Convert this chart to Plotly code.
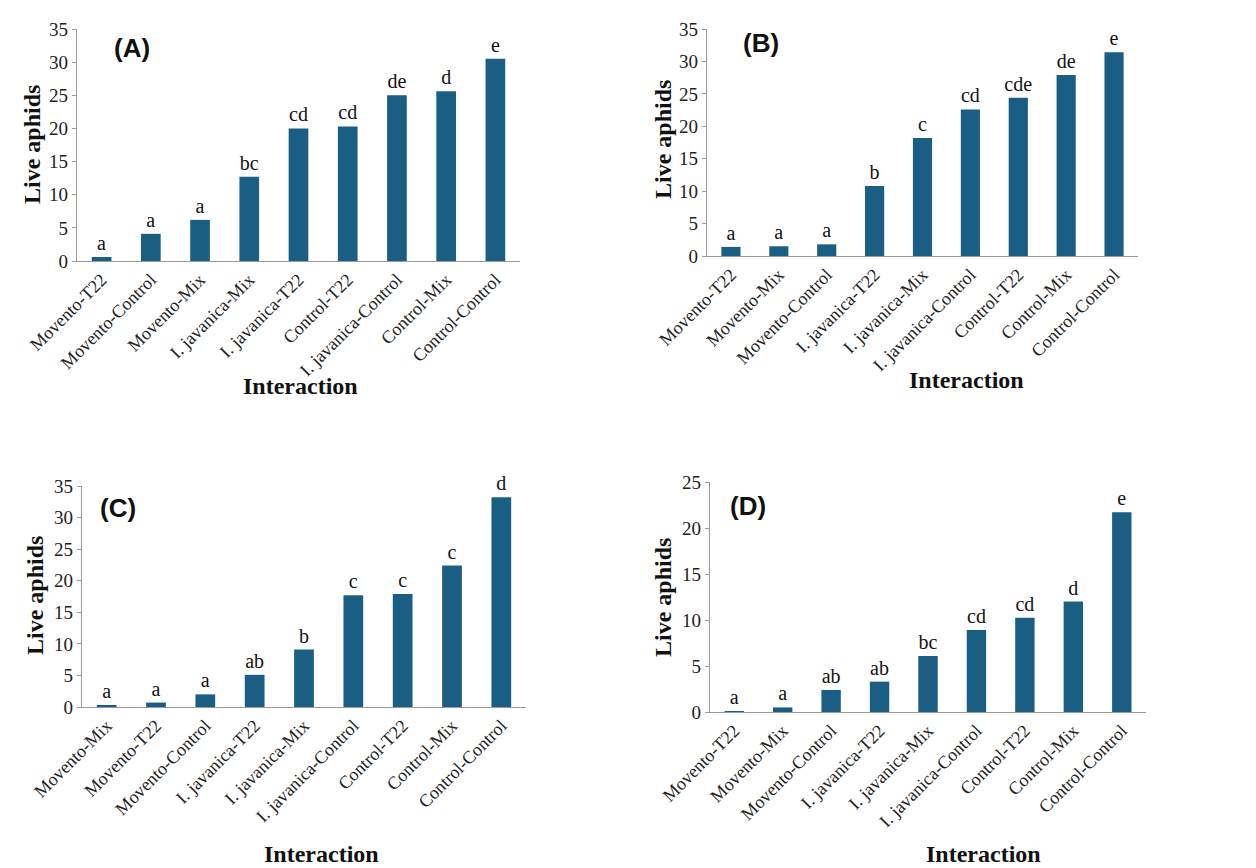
import plotly.graph_objects as go

# ---------------- data ----------------
cats_A = ["Movento-T22", "Movento-Control", "Movento-Mix", "I. javanica-Mix", "I. javanica-T22",
          "Control-T22", "I. javanica-Control", "Control-Mix", "Control-Control"]
vals_A = [0.6, 4.1, 6.2, 12.7, 20.0, 20.3, 25.0, 25.6, 30.5]
lets_A = ["a", "a", "a", "bc", "cd", "cd", "de", "d", "e"]

cats_B = ["Movento-T22", "Movento-Mix", "Movento-Control", "I. javanica-T22", "I. javanica-Mix",
          "I. javanica-Control", "Control-T22", "Control-Mix", "Control-Control"]
vals_B = [1.4, 1.5, 1.8, 10.8, 18.2, 22.6, 24.4, 27.9, 31.4]
lets_B = ["a", "a", "a", "b", "c", "cd", "cde", "de", "e"]

cats_C = ["Movento-Mix", "Movento-T22", "Movento-Control", "I. javanica-T22", "I. javanica-Mix",
          "I. javanica-Control", "Control-T22", "Control-Mix", "Control-Control"]
vals_C = [0.3, 0.7, 2.0, 5.1, 9.1, 17.7, 17.9, 22.4, 33.2]
lets_C = ["a", "a", "a", "ab", "b", "c", "c", "c", "d"]

cats_D = ["Movento-T22", "Movento-Mix", "Movento-Control", "I. javanica-T22", "I. javanica-Mix",
          "I. javanica-Control", "Control-T22", "Control-Mix", "Control-Control"]
vals_D = [0.1, 0.5, 2.4, 3.3, 6.1, 8.9, 10.25, 12.0, 21.7]
lets_D = ["a", "a", "ab", "ab", "bc", "cd", "cd", "d", "e"]

panel_names = ["(A)", "(B)", "(C)", "(D)"]
y_max = [35, 35, 35, 25]
x_title = "Interaction"
y_title = "Live aphids"

# ---------------- layout ----------------
W, H = 1256, 868
BAR = "#1b5e84"
AX = "#9a9a9a"
SERIF = "Liberation Serif, Times New Roman, serif"
SANS = "Liberation Sans, Arial, sans-serif"

# plot boxes in pixels: (left, right, top, bottom)
boxes = [(69, 512, 21, 253), (699, 1130, 21, 248), (74, 518, 478, 699), (702, 1138, 474, 704)]
ytitle_pos = [(24, 137), (655, 132), (27, 588), (655, 590)]
xtitle_pos = [(292, 378), (958, 372), (313, 846), (975, 846)]
panel_pos = [(104, 40), (733, 35), (90, 500), (720, 498)]

def px(x):
    return x / W

def py(y):
    return 1 - y / H

fig = go.Figure()
datasets = [(cats_A, vals_A, lets_A), (cats_B, vals_B, lets_B), (cats_C, vals_C, lets_C), (cats_D, vals_D, lets_D)]

annotations = []
for i, (cats, vals, lets) in enumerate(datasets):
    n = "" if i == 0 else str(i + 1)
    fig.add_trace(go.Bar(
        x=cats, y=vals, text=lets, textposition="outside", cliponaxis=False, constraintext="none",
        textfont=dict(family=SERIF, size=20, color="#111"),
        marker=dict(color=BAR, line=dict(width=0)), width=0.4,
        xaxis="x" + n, yaxis="y" + n, showlegend=False, hoverinfo="x+y"))
    l, r, t, b = boxes[i]
    fig.update_layout(**{
        "xaxis" + n: dict(domain=[px(l), px(r)], anchor="y" + n, tickangle=-45, automargin=False,
                          showline=True, linecolor=AX, linewidth=1.2, ticks="",
                          tickfont=dict(family=SERIF, size=18, color="#222"),
                          showgrid=False, zeroline=False, categoryorder="array", categoryarray=cats),
        "yaxis" + n: dict(domain=[py(b), py(t)], anchor="x" + n, range=[0, y_max[i]], dtick=5,
                          automargin=False,
                          showline=True, linecolor=AX, linewidth=1.2, ticks="outside", ticklen=4,
                          tickcolor=AX, tickfont=dict(family=SERIF, size=19, color="#222"),
                          showgrid=False, zeroline=False),
    })
    annotations.append(dict(x=px(panel_pos[i][0]), y=py(panel_pos[i][1]), xref="paper", yref="paper",
                            text="<b>" + panel_names[i] + "</b>", showarrow=False, xanchor="left",
                            yanchor="middle", font=dict(family=SANS, size=26, color="#111")))
    annotations.append(dict(x=px(ytitle_pos[i][0]), y=py(ytitle_pos[i][1]), xref="paper", yref="paper",
                            text="<b>" + y_title + "</b>", showarrow=False, textangle=-90,
                            xanchor="center", yanchor="middle", font=dict(family=SERIF, size=24, color="#111")))
    annotations.append(dict(x=px(xtitle_pos[i][0]), y=py(xtitle_pos[i][1]), xref="paper", yref="paper",
                            text="<b>" + x_title + "</b>", showarrow=False,
                            xanchor="center", yanchor="middle", font=dict(family=SERIF, size=24, color="#111")))

fig.update_layout(width=W, height=H, margin=dict(l=0, r=0, t=0, b=0, autoexpand=False),
                  paper_bgcolor="white", plot_bgcolor="white", annotations=annotations,
                  bargap=0.6)
fig.write_html("out.html")
